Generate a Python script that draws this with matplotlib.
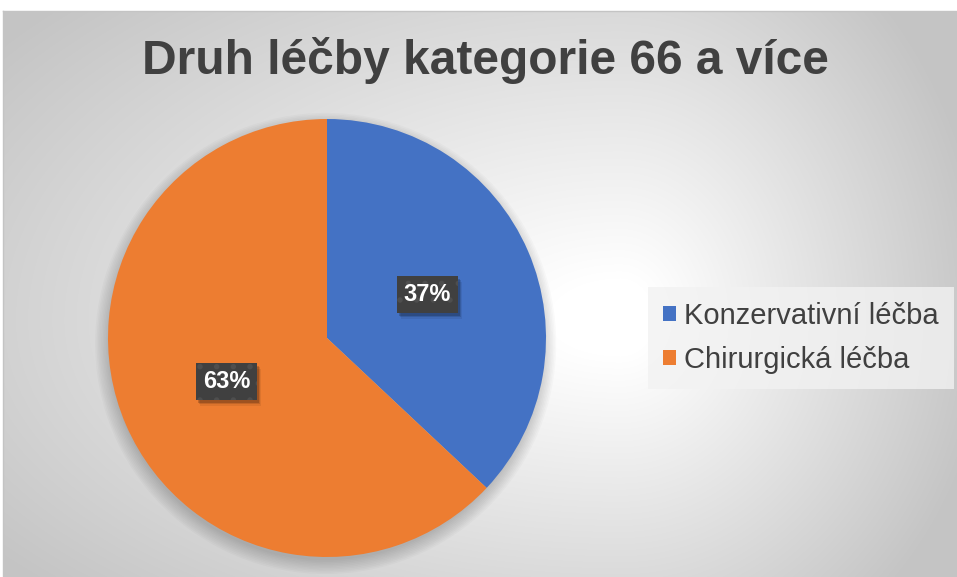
import matplotlib
matplotlib.use("Agg")
import matplotlib.pyplot as plt
import matplotlib.transforms as mtransforms
from matplotlib.patches import Circle, Patch, Rectangle
import numpy as np

# data
labels = ["Konzervativní léčba", "Chirurgická léčba"]
values = [37, 63]
colors = ["#4472C4", "#ED7D31"]
title = "Druh léčby kategorie 66 a více"

plt.rcParams['font.family'] = ['Liberation Sans', 'DejaVu Sans']
plt.rcParams['hatch.linewidth'] = 1.5

W, H = 957, 577
fig = plt.figure(figsize=(W / 100, H / 100), dpi=100)
fig.patch.set_facecolor("white")

# background with a radial gradient (chart area)
bg = fig.add_axes([3 / W, 0, (W - 3) / W, (H - 11) / H], zorder=0)
xx, yy = np.meshgrid(np.arange(3, W), np.arange(11, H))
cx, cy = 620, 320
dx = (xx - cx) / np.where(xx > cx, 340.0, 720.0)
dy = (yy - cy) / np.where(yy > cy, 360.0, 420.0)
r = np.sqrt(dx ** 2 + dy ** 2)
v = 1 - 0.21 * np.clip((r - 0.1) / 0.9, 0, 1.1)
bg.imshow(np.dstack([v, v, v]), aspect="auto", interpolation="bilinear")
bg.set_xticks([])
bg.set_yticks([])
for s in ["right", "bottom"]:
    bg.spines[s].set_visible(False)
for s in ["top", "left"]:
    bg.spines[s].set_color("#c4c4c4")
    bg.spines[s].set_linewidth(1.0)

fig.text(485 / W, 1 - 60 / H, title, ha="center", va="center",
         fontsize=34.5, fontweight="bold", color="#404040")

# pie
ax = fig.add_axes([108 / W, 20 / H, 438 / W, 438 / H], zorder=1)
ax.patch.set_alpha(0)
for i in range(10):
    ax.add_patch(Circle((-0.006, -0.025), 0.99 + 0.007 * i, color="black",
                        alpha=0.02, lw=0, zorder=0, clip_on=False))
wedges, texts, autotexts = ax.pie(values, colors=colors, startangle=90,
                                  counterclock=False, autopct="%1.0f%%",
                                  pctdistance=0.5,
                                  wedgeprops=dict(linewidth=0))
for t in autotexts:
    t.set_color("white")
    t.set_fontsize(17)
    t.set_fontweight("bold")
    t.set_zorder(4)
    t.set_bbox(dict(boxstyle="square,pad=0.28", fc="#404040", ec="#4e4e4e",
                    lw=0, hatch="."))
ax.set_xlim(-1, 1)
ax.set_ylim(-1, 1)
ax.set_aspect("equal")
ax.axis("off")

# soft shadow behind the label boxes
fig.canvas.draw()
for t in autotexts:
    bb = t.get_bbox_patch().get_window_extent()
    for ox, oy, a in [(2, -3, 0.18), (3, -4, 0.12), (4, -6, 0.07)]:
        ax.add_patch(Rectangle((bb.x0 + ox, bb.y0 + oy), bb.width, bb.height,
                               transform=mtransforms.IdentityTransform(),
                               fc="black", ec="none", alpha=a, zorder=3,
                               clip_on=False))

# legend
handles = [Patch(facecolor=c, edgecolor="none") for c in colors]
leg = fig.legend(handles, labels, loc="center left",
                 bbox_to_anchor=(648 / W, 1 - 338 / H), borderaxespad=0,
                 fontsize=21, frameon=True, fancybox=False,
                 handlelength=0.45, handleheight=0.45, handletextpad=0.3,
                 labelspacing=0.55, borderpad=0.5, labelcolor="#404040")
leg.get_frame().set_facecolor("#f2f2f2")
leg.get_frame().set_alpha(0.8)
leg.get_frame().set_edgecolor("none")

fig.savefig("out.png", dpi=100)
